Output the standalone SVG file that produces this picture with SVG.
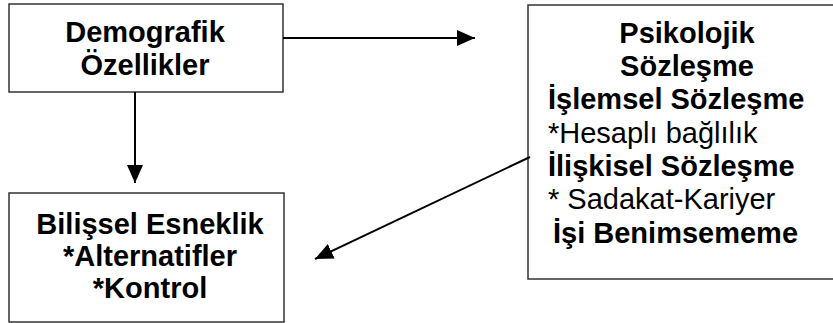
<svg xmlns="http://www.w3.org/2000/svg" width="833" height="323" viewBox="0 0 833 323">
  <style>
    .box { fill: #ffffff; stroke: #333333; stroke-width: 1.5; }
    .edge { stroke: #000000; stroke-width: 2; fill: none; }
    .b { font-family: "Liberation Sans", Arial, sans-serif; font-size: 29px; font-weight: bold; fill: #000000; }
    .r { font-family: "Liberation Sans", Arial, sans-serif; font-size: 29px; fill: #000000; }
    .mid { text-anchor: middle; }
  </style>
  <defs>
    <marker id="arrow" markerUnits="userSpaceOnUse" markerWidth="18" markerHeight="16" refX="18" refY="8" orient="auto">
      <path d="M0,0 L18,8 L0,16 z" fill="#000000"/>
    </marker>
  </defs>
  <rect width="833" height="323" fill="#ffffff"/>

  <g id="demografik">
    <rect class="box" x="9" y="4" width="274" height="88"/>
    <text class="b mid" x="145" y="42">Demografik</text>
    <text class="b mid" x="145" y="75">Özellikler</text>
  </g>

  <g id="psikolojik">
    <rect class="box" x="528" y="5" width="320" height="274"/>
    <text class="b mid" x="687" y="43">Psikolojik</text>
    <text class="b mid" x="687" y="76">Sözleşme</text>
    <text class="b" x="548" y="109">İşlemsel Sözleşme</text>
    <text class="r" x="548" y="143">*Hesaplı bağlılık</text>
    <text class="b" x="548" y="176">İlişkisel Sözleşme</text>
    <text class="r" x="548" y="209">* Sadakat-Kariyer</text>
    <text class="b" x="553" y="243">İşi Benimsememe</text>
  </g>

  <g id="bilissel">
    <rect class="box" x="9" y="193" width="275" height="129"/>
    <text class="b mid" x="150" y="234">Bilişsel Esneklik</text>
    <text class="b mid" x="150" y="266">*Alternatifler</text>
    <text class="b mid" x="150" y="298">*Kontrol</text>
  </g>

  <g id="connectors">
    <line class="edge" x1="283" y1="38" x2="475" y2="38" marker-end="url(#arrow)"/>
    <line class="edge" x1="135" y1="92" x2="135" y2="183" marker-end="url(#arrow)"/>
    <line class="edge" x1="530" y1="157" x2="315" y2="259" marker-end="url(#arrow)"/>
  </g>
</svg>
